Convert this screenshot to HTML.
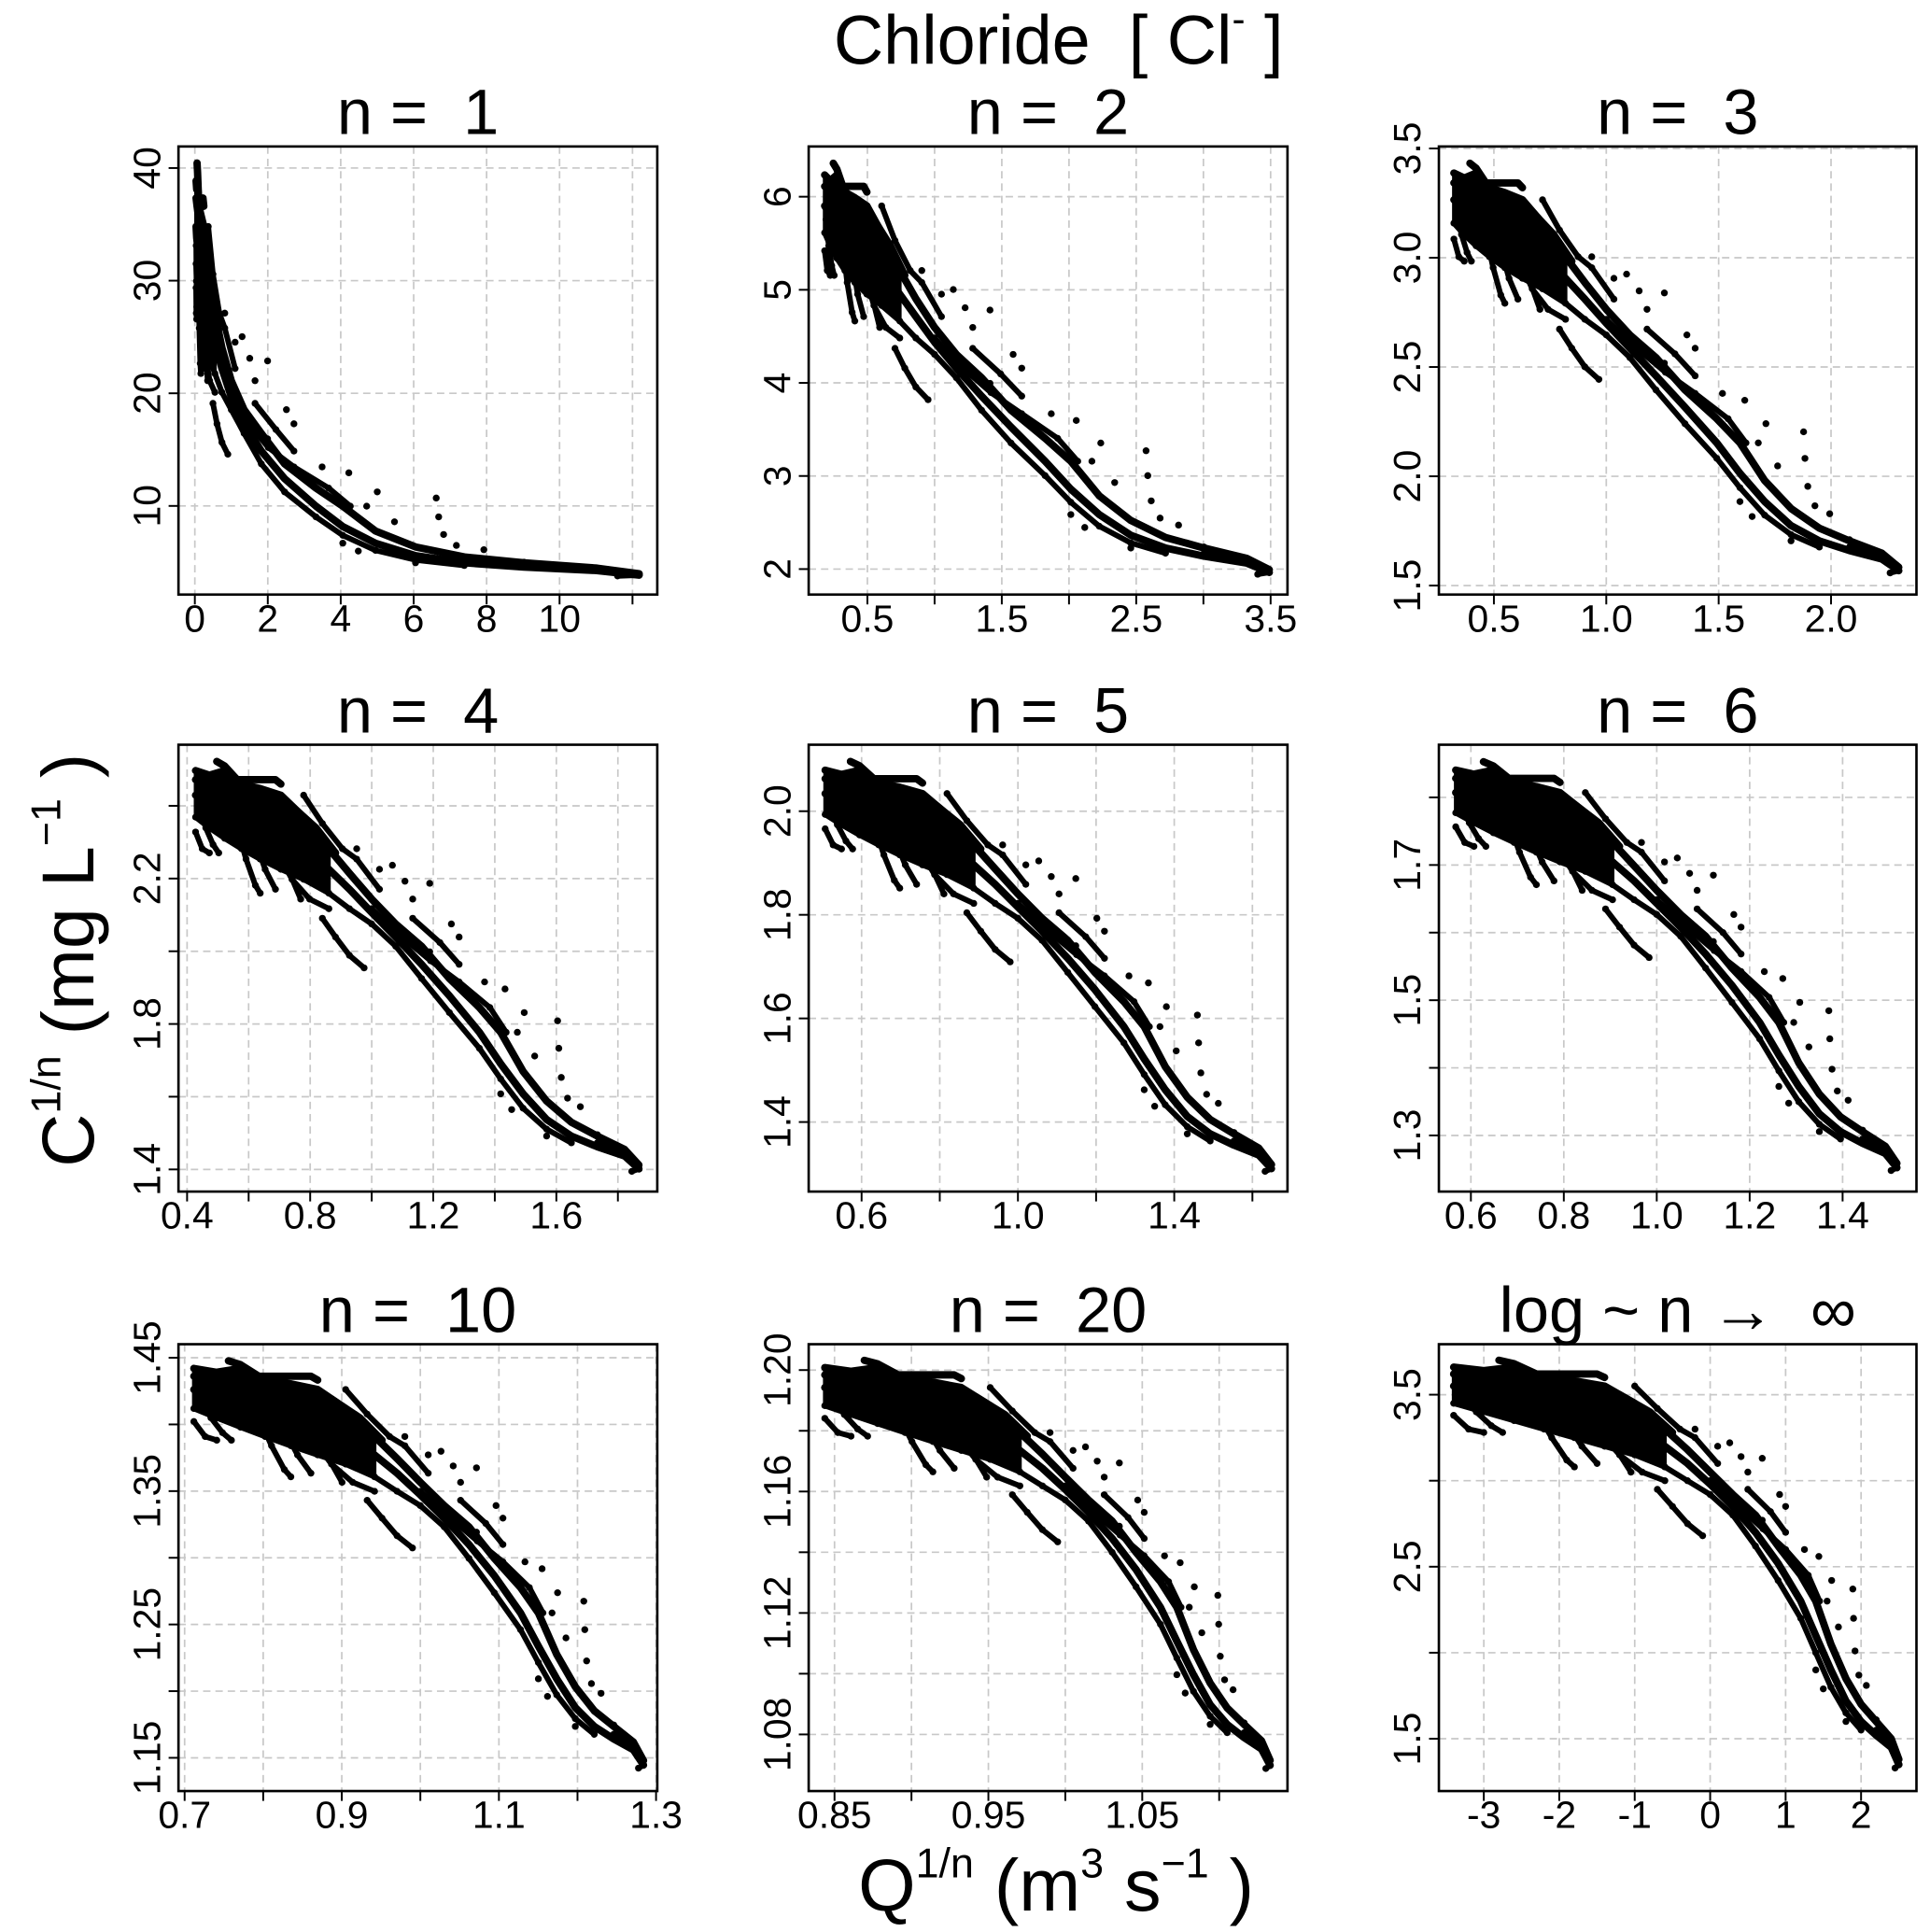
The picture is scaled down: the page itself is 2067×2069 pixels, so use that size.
<!DOCTYPE html>
<html><head><meta charset="utf-8"><style>
html,body{margin:0;padding:0;background:#fff}
svg{display:block;font-family:"Liberation Sans",sans-serif}
text{white-space:pre}
</style></head><body>
<svg id="chart" xmlns="http://www.w3.org/2000/svg" width="2067" height="2069" viewBox="0 0 1568 1569.5" preserveAspectRatio="none" xml:space="preserve">
<rect x="0" y="0" width="1568" height="1570" fill="#fff"/>
<text x="860" y="52" font-size="56" text-anchor="middle">Chloride  [ Cl<tspan font-size="32" dy="-26">-</tspan><tspan dy="26"> ]</tspan></text>
<text transform="translate(76,780) rotate(-90)" font-size="60" text-anchor="middle">C<tspan font-size="34" dy="-27">1/n</tspan><tspan dy="27"> (mg L</tspan><tspan font-size="34" dy="-27">−1</tspan><tspan dy="27"> )</tspan></text>
<text x="858" y="1552" font-size="60" text-anchor="middle">Q<tspan font-size="34" dy="-27">1/n</tspan><tspan dy="27"> (m</tspan><tspan font-size="34" dy="-27">3</tspan><tspan dy="27"> s</tspan><tspan font-size="34" dy="-27">−1</tspan><tspan dy="27"> )</tspan></text>
<g id="panels"></g>
</svg>
<script>
// Data (natural logs of discharge Q and concentration C)
const strandId = [
0,0,0,0,0,0,0,0,0,0,0,0,0,0,0,0,0,0,0,0,0,
1,1,1,1,1,1,1,1,1,1,1,1,1,1,1,1,1,1,1,1,1,
2,2,2,2,2,2,2,2,2,2,2,2,2,2,2,2,2,2,
3,3,3,3, 4,4,4, 5,5,5,5, 6,6,6,6,6,6, 7,7,7,7, 8,8,8, 9,9,9,
10,10,10,10,10, 11,11,11,11,11,11, 12,12,12, 13,13,13, 14,14,14,14,14, 15,15,15,15, 16,16,16,16,16,
-1,-1,-1,-1,-1,-1,-1,-1,-1,-1,-1,-1,-1,-1,-1,-1,-1,-1,-1,-1,-1,-1,-1,-1];
const lnQ = [
-3.4,-3.0,-2.6,-2.2,-1.8,-1.4,-1.0,-0.6,-0.3,0,0.3,0.6,0.9,1.2,1.4,1.6,1.8,2.0,2.2,2.4,2.5,
-3.4,-3.0,-2.6,-2.2,-1.8,-1.4,-1.0,-0.6,-0.3,0,0.3,0.6,0.9,1.2,1.4,1.6,1.8,2.0,2.2,2.4,2.5,
-3.4,-3.0,-2.6,-2.2,-1.8,-1.4,-1.0,-0.6,-0.3,0,0.3,0.6,0.9,1.2,1.4,1.6,1.8,2.0,
-2.3,-2.1,-1.9,-1.8, -1.6,-1.3,-1.05, -0.7,-0.5,-0.3,-0.1, -3.4,-2.8,-2.0,-1.2,-0.8,-0.5, -3.3,-3.1,-2.9,-2.75, -2.6,-2.45,-2.3, -3.4,-3.2,-3.0,
-1.0,-0.7,-0.4,-0.2,0.1, 0.0,0.3,0.7,1.0,1.3,1.45, -2.0,-1.7,-1.5, 0.5,0.8,1.0, -2.8,-2.6,-2.3,-1.5,-1.4, -1.5,-1.2,-0.9,-0.6, 2.2,2.35,2.45,2.5,2.45,
0.26,0.41,0.69,0.92,0.69,1.25,1.44,1.61,1.89,1.9,1.92,1.97,2.07,2.2,1.5,1.4,1.55,1.7,1.0,0.5,-0.2,0.1,2.3,1.8];
const lnC = [
3.66,3.64,3.66,3.6,3.58,3.55,3.45,3.3,3.18,3.05,2.92,2.8,2.62,2.45,2.3,2.05,1.85,1.7,1.6,1.5,1.38,
3.55,3.52,3.5,3.48,3.45,3.4,3.3,3.2,3.1,2.98,2.85,2.7,2.52,2.3,2.1,1.9,1.72,1.6,1.52,1.45,1.35,
3.45,3.4,3.35,3.3,3.25,3.2,3.15,3.08,3.0,2.92,2.8,2.62,2.42,2.2,2.0,1.8,1.65,1.55,
3.4,3.25,3.12,3.08, 3.42,3.22,3.05, 2.95,2.85,2.75,2.68, 3.62,3.6,3.55,3.5,3.4,3.28, 3.5,3.4,3.32,3.28, 3.62,3.45,3.32, 3.38,3.3,3.28,
3.55,3.42,3.3,3.25,3.1, 3.0,2.88,2.72,2.6,2.45,2.3, 3.4,3.2,3.1, 2.95,2.82,2.7, 3.7,3.68,3.62,3.62,3.6, 3.3,3.15,3.05,3.0, 1.55,1.48,1.42,1.35,1.33,
3.22,3.14,3.13,2.92,2.77,2.6,2.56,2.42,2.37,2.2,2.01,1.87,1.81,1.61,1.79,1.9,2.3,2.15,2.85,3.05,3.3,3.2,1.55,1.6];

// Panel exponents and tick labels
const exponents = [1,2,3,4,5,6,10,20,Infinity];
const titles = ['n =  1','n =  2','n =  3','n =  4','n =  5','n =  6','n =  10','n =  20','log ~ n \u2192  \u221E'];
const xTicks = [[0,2,4,6,8,10,12],[0.5,1,1.5,2,2.5,3,3.5],[0.5,1,1.5,2],[0.4,0.6,0.8,1,1.2,1.4,1.6,1.8],[0.6,0.8,1,1.2,1.4,1.6],[0.6,0.8,1,1.2,1.4],[0.7,0.8,0.9,1,1.1,1.2,1.3],[0.85,0.9,0.95,1,1.05,1.1],[-3,-2,-1,0,1,2]];
const xLabels = [['0','2','4','6','8','10',''],['0.5','','1.5','','2.5','','3.5'],['0.5','1.0','1.5','2.0'],['0.4','','0.8','','1.2','','1.6',''],['0.6','','1.0','','1.4',''],['0.6','0.8','1.0','1.2','1.4'],['0.7','','0.9','','1.1','','1.3'],['0.85','','0.95','','1.05',''],['-3','-2','-1','0','1','2']];
const yTicks = [[10,20,30,40],[2,3,4,5,6],[1.5,2,2.5,3,3.5],[1.4,1.6,1.8,2.0,2.2,2.4],[1.4,1.6,1.8,2.0],[1.3,1.4,1.5,1.6,1.7,1.8],[1.15,1.2,1.25,1.3,1.35,1.4,1.45],[1.08,1.1,1.12,1.14,1.16,1.18,1.2],[1.5,2,2.5,3,3.5]];
const yLabels = [['10','20','30','40'],['2','3','4','5','6'],['1.5','2.0','2.5','3.0','3.5'],['1.4','','1.8','','2.2',''],['1.4','1.6','1.8','2.0'],['1.3','','1.5','','1.7',''],['1.15','','1.25','','1.35','','1.45'],['1.08','','1.12','','1.16','','1.20'],['1.5','','2.5','','3.5']];

// Layout (pixel geometry, not data)
const colX = [[145,534],[657,1046],[1169,1557]];
const rowY = [[119,483],[605,968],[1092,1455]];
const xAnchor = [[0,158.3,10,454.6],[0.5,704.7,3.5,1032.3],[0.5,1213.7,2.0,1487.6],[0.4,152,1.6,452],[0.6,700,1.4,954],[0.6,1195,1.4,1497],[0.7,150,1.3,533],[0.85,678,1.05,928],[-3,1205.5,2,1512]];
const yAnchor = [[40,136.5,10,411],[6,159.8,2,462.3],[3.5,120.6,1.5,475.7],[2.2,713.7,1.4,950],[2.0,659,1.4,911.5],[1.7,702.7,1.3,922.4],[1.45,1103,1.15,1428],[1.20,1113,1.08,1409],[3.5,1133,1.5,1412.5]];

const NS='http://www.w3.org/2000/svg';
function mk(tag, attrs, parent){const e=document.createElementNS(NS,tag);for(const k in attrs)e.setAttribute(k,attrs[k]);if(parent)parent.appendChild(e);return e;}
function lin(a){const s=(a[3]-a[1])/(a[2]-a[0]);return v=>a[1]+(v-a[0])*s;}
function tf(lv,n){return isFinite(n)?Math.exp(lv/n):lv;}

const root=document.getElementById('panels');
for(let p=0;p<9;p++){
  const n=exponents[p];
  const [x0,x1]=colX[p%3], [y0,y1]=rowY[Math.floor(p/3)];
  const sx=lin(xAnchor[p]), sy=lin(yAnchor[p]);
  const g=mk('g',{},root);
  
  
  const t=mk('text',{x:(x0+x1)/2,y:y0-10,'font-size':52,'text-anchor':'middle'},g);
  
  
  t.textContent=titles[p];
  const clip='clip'+p;
  const cp=mk('clipPath',{id:clip},g); mk('rect',{x:x0,y:y0,width:x1-x0,height:y1-y0},cp);
  const grid=mk('g',{stroke:'#c8c8c8','stroke-width':1.3,'stroke-dasharray':'6,4','clip-path':'url(#'+clip+')'},g);
  
  
  xTicks[p].forEach((v,i)=>{const X=sx(v);mk('line',{x1:X,x2:X,y1:y0,y2:y1},grid);
    const tk=mk('line',{x1:X,x2:X,y1:y1,y2:y1+8,stroke:'#000','stroke-width':1.5},g);
    
    
    if(xLabels[p][i]){const l=mk('text',{x:X,y:y1+30,'font-size':31,'text-anchor':'middle'},g);
      
      
      l.textContent=xLabels[p][i];}});
  yTicks[p].forEach((v,i)=>{const Y=sy(v);mk('line',{x1:x0,x2:x1,y1:Y,y2:Y},grid);
    const tk=mk('line',{x1:x0-8,x2:x0,y1:Y,y2:Y,stroke:'#000','stroke-width':1.5},g);
    
    
    if(yLabels[p][i]){const l=mk('text',{transform:'translate('+(x0-15)+','+Y+') rotate(-90)','font-size':31,'text-anchor':'middle'},g);
      
      
      l.textContent=yLabels[p][i];}});
  const pts=mk('g',{fill:'#000','clip-path':'url(#'+clip+')'},g);
  
  
  const groups={};
  for(let i=0;i<lnQ.length;i++){
    const X=sx(tf(lnQ[i],n)), Y=sy(tf(lnC[i],n));
    const c=mk('circle',{cx:X.toFixed(1),cy:Y.toFixed(1),r:2.8},pts);
    
    
    if(strandId[i]>=0){(groups[strandId[i]]=groups[strandId[i]]||[]).push([X,Y,lnQ[i]]);}
  }
  // dense cloud envelope between the top ridge and lower strand at low discharge
  const top=groups[0].filter(q=>q[2]<=-0.6), bot=groups[2].filter(q=>q[2]<=-0.6).reverse();
  const env=mk('polygon',{points:top.concat(bot).map(q=>q[0].toFixed(1)+','+q[1].toFixed(1)).join(' '),fill:'#000',stroke:'#000','stroke-width':3,'stroke-linejoin':'round'},pts);
  
  
  for(const k in groups){
    const pl=mk('polyline',{points:groups[k].map(q=>q[0].toFixed(1)+','+q[1].toFixed(1)).join(' '),fill:'none',stroke:'#000','stroke-width':(k==0||k==1||k==6||k==14)?6:4.5,'stroke-linecap':'round','stroke-linejoin':'round'},pts);
    
    
  }
  const box=mk('rect',{x:x0,y:y0,width:x1-x0,height:y1-y0,fill:'none',stroke:'#000','stroke-width':2},g);
  
  
}
</script>
</body></html>
